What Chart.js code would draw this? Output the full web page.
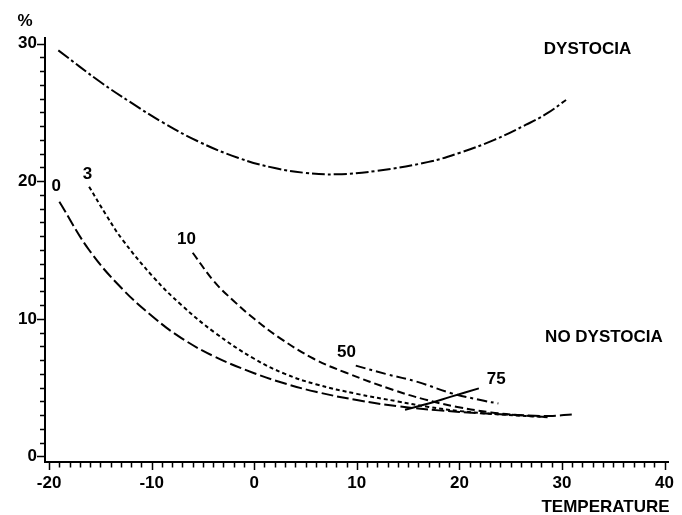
<!DOCTYPE html>
<html>
<head>
<meta charset="utf-8">
<script src="https://cdn.jsdelivr.net/npm/chart.js@4/dist/chart.umd.min.js"></script>
<style>
    body { margin: 0; background: #fff; }
    canvas { display: block; }
</style>
</head>
<body>
<canvas id="canvas" width="682" height="515"></canvas>
<script>
// values: [temperature, %]
var dystocia = [[-19.1, 29.5], [-15, 27.2], [-12, 25.7], [-9, 24.3], [-5.5, 22.9], [-1.6, 21.7],
    [2, 20.95], [5, 20.6], [8, 20.5], [12, 20.75], [17, 21.4], [20, 22.05], [23.4, 23.0],
    [26.5, 24.1], [28.5, 24.9], [30.4, 25.9]];
var curve0 = [[-19, 18.5], [-16.1, 15.0], [-12.9, 12.2], [-9.8, 10.1], [-7.1, 8.6], [-3.85, 7.25],
    [0, 6.05], [3, 5.3], [6, 4.7], [10, 4.1], [14, 3.65], [18, 3.35], [22, 3.15], [26, 3.0],
    [28.8, 2.95], [31, 3.05]];
var curve3 = [[-16.1, 19.6], [-14.4, 17.5], [-12.9, 15.8], [-9.8, 13.0], [-7.1, 11.0], [-3.85, 9.0],
    [0, 7.1], [3, 6.0], [6, 5.25], [10, 4.55], [14, 4.0], [17, 3.6], [20, 3.3], [24, 3.05],
    [28.8, 2.85]];
var curve10 = [[-6, 14.8], [-3.9, 12.7], [-2, 11.3], [0, 10.0], [2.5, 8.6], [5.8, 7.1], [8.9, 6.1],
    [13.5, 4.85], [16.6, 4.15], [19.8, 3.6], [23.1, 3.2], [26, 3.0], [28.8, 2.85]];
var curve50 = [[9.9, 6.6], [12.8, 6.0], [16, 5.4], [19.2, 4.6], [22.4, 4.05], [23.8, 3.85]];
var curve75 = [[14.7, 3.4], [17, 3.85], [19.2, 4.35], [21.9, 4.95]];

var xTickLabels = [-20, -10, 0, 10, 20, 30, 40];
var yTickLabels = [0, 10, 20, 30];

var curveLabels = [
    { text: '0', x: -19.3, y: 19.6 },
    { text: '3', x: -16.25, y: 20.5 },
    { text: '10', x: -6.6, y: 15.8 },
    { text: '50', x: 9.0, y: 7.56 },
    { text: '75', x: 23.6, y: 5.6 },
    { text: 'DYSTOCIA', x: 32.5, y: 29.6 },
    { text: 'NO DYSTOCIA', x: 34.1, y: 8.65 }
];

var FONT = 'Liberation Sans, Arial, sans-serif';

function toPoints(rows) {
    return rows.map(function (r) { return { x: r[0], y: r[1] }; });
}

function curve(rows, dash) {
    return {
        data: toPoints(rows),
        borderColor: '#000',
        borderWidth: 2,
        borderDash: dash,
        pointRadius: 0,
        fill: false,
        tension: 0.4
    };
}

function unitTicks(from, to) {
    var t = [];
    for (var v = from; v <= to; v++) t.push({ value: v });
    return t;
}

var annotate = {
    id: 'annotate',
    afterDraw: function (chart) {
        var ctx = chart.ctx, xs = chart.scales.x, ys = chart.scales.y;
        ctx.save();
        ctx.strokeStyle = '#000';
        ctx.lineWidth = 1.5;
        ctx.beginPath();
        // tick marks: long at the labelled values, short at every unit
        unitTicks(-20, 40).forEach(function (t) {
            var px = Math.round(xs.getPixelForValue(t.value)) + 0.5;
            var len = xTickLabels.indexOf(t.value) >= 0 ? 8 : 5.5;
            ctx.moveTo(px, xs.top);
            ctx.lineTo(px, xs.top + len);
        });
        unitTicks(0, 30).forEach(function (t) {
            var py = Math.round(ys.getPixelForValue(t.value)) + 0.5;
            var len = yTickLabels.indexOf(t.value) >= 0 ? 8 : 5;
            ctx.moveTo(ys.right, py);
            ctx.lineTo(ys.right - len, py);
        });
        ctx.stroke();

        ctx.fillStyle = '#000';
        ctx.font = 'bold 17px ' + FONT;
        ctx.textAlign = 'center';
        ctx.textBaseline = 'middle';
        curveLabels.forEach(function (l) {
            ctx.fillText(l.text, xs.getPixelForValue(l.x), ys.getPixelForValue(l.y));
        });
        ctx.fillText('%', ys.right - 20, chart.chartArea.top - 17);
        ctx.textAlign = 'right';
        ctx.fillText('TEMPERATURE', xs.right + 1, xs.bottom - 8);
        ctx.restore();
    }
};

var axisStyle = {
    border: { color: '#000', width: 2 },
    grid: { drawOnChartArea: false, tickLength: 3, color: 'rgba(0,0,0,0)', tickColor: 'rgba(0,0,0,0)' },
    ticks: { color: '#000', font: { family: FONT, size: 17, weight: 'bold' }, autoSkip: false, maxRotation: 0 }
};

new Chart(document.getElementById('canvas'), {
    type: 'line',
    data: {
        datasets: [
            curve(dystocia, [13, 3, 3, 3]),
            curve(curve0, [12, 4]),
            curve(curve3, [4, 3]),
            curve(curve10, [8, 4]),
            curve(curve50, [10, 4, 3, 4]),
            curve(curve75, [])
        ]
    },
    options: {
        responsive: false,
        animation: false,
        layout: { padding: { top: 38, right: 5, left: 0, bottom: 0 } },
        plugins: { legend: { display: false }, tooltip: { enabled: false } },
        scales: {
            x: {
                type: 'linear',
                min: -20.4,
                max: 40.4,
                border: axisStyle.border,
                grid: axisStyle.grid,
                ticks: Object.assign({}, axisStyle.ticks, {
                    padding: 8,
                    callback: function (v) { return xTickLabels.indexOf(v) >= 0 ? String(v) : ''; }
                }),
                afterBuildTicks: function (scale) { scale.ticks = unitTicks(-20, 40); },
                afterFit: function (scale) { scale.height = 53; }
            },
            y: {
                type: 'linear',
                min: -0.4,
                max: 30.4,
                border: axisStyle.border,
                grid: axisStyle.grid,
                ticks: Object.assign({}, axisStyle.ticks, {
                    padding: 5,
                    callback: function (v) { return yTickLabels.indexOf(v) >= 0 ? String(v) : ''; }
                }),
                afterBuildTicks: function (scale) { scale.ticks = unitTicks(0, 30); },
                afterFit: function (scale) { scale.width = 45; }
            }
        }
    },
    plugins: [annotate]
});
</script>
</body>
</html>
